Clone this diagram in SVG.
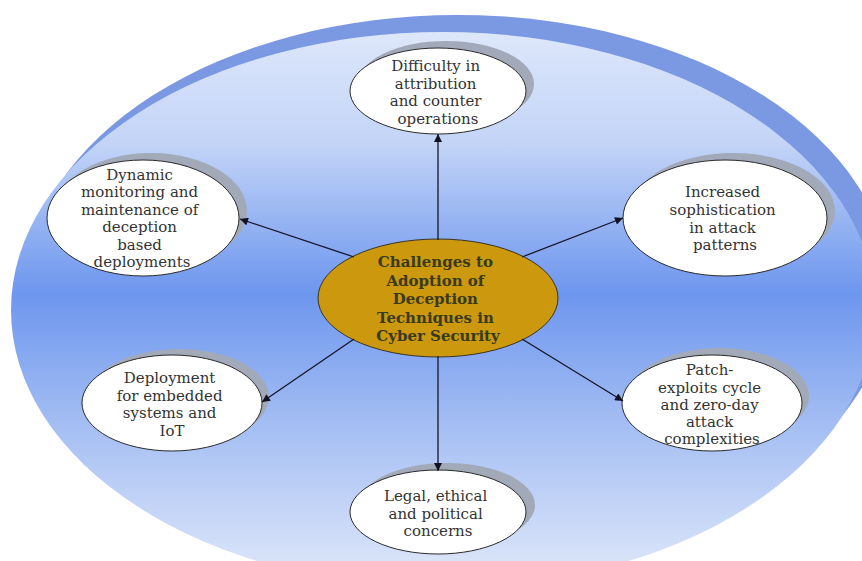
<svg xmlns="http://www.w3.org/2000/svg" width="862" height="561" viewBox="0 0 862 561">
  <defs>
    <linearGradient id="bgGrad" x1="0" y1="0" x2="0" y2="1">
      <stop offset="0" stop-color="#DDE7FB"/>
      <stop offset="0.2" stop-color="#C3D4F7"/>
      <stop offset="0.47" stop-color="#6D96EE"/>
      <stop offset="0.7" stop-color="#A3BDF3"/>
      <stop offset="1" stop-color="#E2EAFA"/>
    </linearGradient>
    <marker id="arrow" viewBox="0 0 10 10" refX="10" refY="5" markerWidth="10" markerHeight="8" markerUnits="userSpaceOnUse" orient="auto">
      <path d="M0,0 L10,5 L0,10 z" fill="#111122"/>
    </marker>
    <style>
      .shadow { fill: #A2A9B9; }
      .node { fill: #FFFFFF; stroke: #2A2A2A; stroke-width: 1; }
      .label { font-family: "DejaVu Serif", "Liberation Serif", serif; font-size: 15px; fill: #333333; text-anchor: middle; }
      .hub { fill: #CB980E; stroke: #3A3420; stroke-width: 1; }
      .hubLabel { font-family: "DejaVu Serif", "Liberation Serif", serif; font-size: 15px; font-weight: bold; fill: #3A3A1E; text-anchor: middle; }
      .conn { stroke: #15152A; stroke-width: 1.3; fill: none; marker-end: url(#arrow); }
    </style>
  </defs>

  <rect width="862" height="561" fill="#FFFFFF"/>

  <!-- backdrop: rim and gradient disc -->
  <g id="backdrop">
    <ellipse cx="458" cy="290" rx="432" ry="275" fill="#7B98E3"/>
    <ellipse cx="443" cy="310" rx="432" ry="278" fill="url(#bgGrad)"/>
  </g>

  <g id="hub">
    <ellipse class="hub" cx="438" cy="298" rx="120" ry="59"/>
    <text class="hubLabel">
      <tspan x="438" y="267">Challenges to</tspan>
      <tspan x="438" y="285.5">Adoption of</tspan>
      <tspan x="438" y="304">Deception</tspan>
      <tspan x="438" y="322.5">Techniques in</tspan>
      <tspan x="438" y="341">Cyber Security</tspan>
    </text>
  </g>

  <g id="node-attribution">
    <ellipse class="shadow" cx="446" cy="84" rx="88" ry="43"/>
    <ellipse class="node" cx="438" cy="91" rx="88" ry="43"/>
    <text class="label">
      <tspan x="438" y="71">Difficulty in</tspan>
      <tspan x="438" y="89">attribution</tspan>
      <tspan x="438" y="106">and counter</tspan>
      <tspan x="438" y="124">operations</tspan>
    </text>
  </g>

  <g id="node-monitoring">
    <ellipse class="shadow" cx="151" cy="211" rx="96" ry="58"/>
    <ellipse class="node" cx="143" cy="218" rx="96" ry="58"/>
    <text class="label">
      <tspan x="142" y="180">Dynamic</tspan>
      <tspan x="142" y="197">monitoring and</tspan>
      <tspan x="142" y="215">maintenance of</tspan>
      <tspan x="142" y="232">deception</tspan>
      <tspan x="142" y="250">based</tspan>
      <tspan x="142" y="267">deployments</tspan>
    </text>
  </g>

  <g id="node-sophistication">
    <ellipse class="shadow" cx="733" cy="211" rx="102" ry="58"/>
    <ellipse class="node" cx="725" cy="218" rx="102" ry="58"/>
    <text class="label">
      <tspan x="725" y="197">Increased</tspan>
      <tspan x="725" y="215">sophistication</tspan>
      <tspan x="725" y="233">in attack</tspan>
      <tspan x="725" y="250">patterns</tspan>
    </text>
  </g>

  <g id="node-embedded">
    <ellipse class="shadow" cx="179" cy="397" rx="90" ry="48"/>
    <ellipse class="node" cx="172" cy="403" rx="90" ry="48"/>
    <text class="label">
      <tspan x="172" y="383">Deployment</tspan>
      <tspan x="172" y="401">for embedded</tspan>
      <tspan x="172" y="418">systems and</tspan>
      <tspan x="172" y="436">IoT</tspan>
    </text>
  </g>

  <g id="node-patch">
    <ellipse class="shadow" cx="719" cy="396" rx="90" ry="48"/>
    <ellipse class="node" cx="712" cy="403" rx="90" ry="48"/>
    <text class="label">
      <tspan x="712" y="375">Patch-</tspan>
      <tspan x="712" y="393">exploits cycle</tspan>
      <tspan x="712" y="410">and zero-day</tspan>
      <tspan x="712" y="427">attack</tspan>
      <tspan x="712" y="444">complexities</tspan>
    </text>
  </g>

  <g id="node-legal">
    <ellipse class="shadow" cx="447" cy="505" rx="88" ry="42"/>
    <ellipse class="node" cx="438" cy="512" rx="88" ry="42"/>
    <text class="label">
      <tspan x="438" y="501">Legal, ethical</tspan>
      <tspan x="438" y="519">and political</tspan>
      <tspan x="438" y="536">concerns</tspan>
    </text>
  </g>

  <!-- connectors from the hub to each challenge, drawn on top so the arrowheads sit over the node shadows -->
  <g id="connectors">
    <line class="conn" x1="438" y1="240" x2="438" y2="134"/>
    <line class="conn" x1="438" y1="356" x2="438" y2="471"/>
    <line class="conn" x1="354" y1="257" x2="240" y2="219"/>
    <line class="conn" x1="522" y1="257" x2="623" y2="218"/>
    <line class="conn" x1="354" y1="339" x2="262" y2="402"/>
    <line class="conn" x1="522" y1="339" x2="623" y2="401"/>
  </g>
</svg>
